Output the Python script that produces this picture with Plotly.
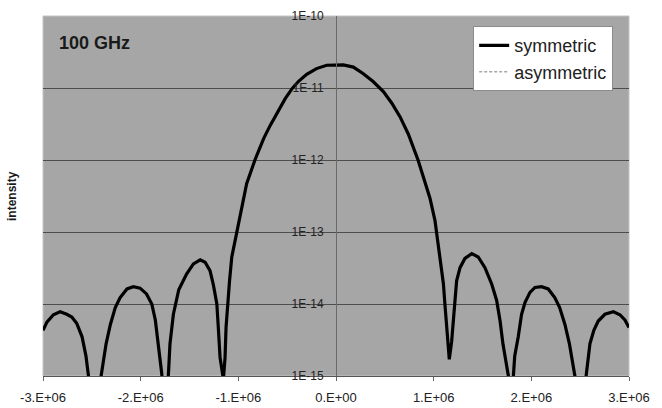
import plotly.graph_objects as go

# x positions (frequency offset)
x_vals = [
    -3.00e6, -2.96e6, -2.894e6, -2.825e6, -2.757e6, -2.705e6, -2.655e6, -2.60e6, -2.56e6, -2.535e6,
    -2.47e6, -2.405e6, -2.39e6, -2.354e6, -2.31e6, -2.26e6, -2.21e6, -2.14e6, -2.075e6, -2.006e6,
    -1.94e6, -1.886e6, -1.85e6, -1.82e6, -1.785e6, -1.75e6, -1.715e6, -1.70e6, -1.665e6, -1.61e6,
    -1.53e6, -1.46e6, -1.39e6, -1.34e6, -1.29e6, -1.256e6, -1.22e6, -1.205e6, -1.187e6, -1.153e6,
    -1.136e6, -1.126e6, -1.11e6, -1.09e6, -1.067e6, -1.016e6, -0.965e6, -0.915e6, -0.83e6,
    -0.74e6, -0.675e6, -0.59e6, -0.52e6, -0.45e6, -0.386e6, -0.30e6, -0.20e6, -0.095e6, 0.02e6,
    0.075e6, 0.178e6, 0.28e6, 0.38e6, 0.485e6, 0.57e6, 0.655e6, 0.74e6, 0.81e6, 0.84e6,
    0.90e6, 0.962e6, 1.013e6, 1.065e6, 1.10e6, 1.115e6, 1.133e6, 1.16e6, 1.184e6, 1.20e6,
    1.218e6, 1.235e6, 1.27e6, 1.32e6, 1.39e6, 1.456e6, 1.525e6, 1.594e6, 1.645e6, 1.68e6,
    1.71e6, 1.747e6, 1.765e6, 1.79e6, 1.815e6, 1.83e6, 1.866e6, 1.90e6, 1.935e6, 1.986e6,
    2.037e6, 2.105e6, 2.173e6, 2.24e6, 2.29e6, 2.344e6, 2.39e6, 2.42e6, 2.446e6, 2.50e6,
    2.56e6, 2.573e6, 2.60e6, 2.64e6, 2.685e6, 2.753e6, 2.84e6, 2.907e6, 2.958e6, 3.00e6,
]

y_symmetric = [
    4.3e-15, 5.6e-15, 7.1e-15, 7.8e-15, 7.2e-15, 6.6e-15, 5.4e-15, 3.5e-15, 1.9e-15, 1.0e-15,
    2.0e-16, 1.0e-15, 1.35e-15, 2.8e-15, 5.2e-15, 8.9e-15, 1.23e-14, 1.62e-14, 1.74e-14, 1.66e-14,
    1.38e-14, 1.0e-14, 6.0e-15, 2.8e-15, 1.1e-15, 3.0e-16, 1.1e-15, 2.8e-15, 7.2e-15, 1.58e-14,
    2.6e-14, 3.6e-14, 4.1e-14, 3.8e-14, 2.9e-14, 1.86e-14, 1.0e-14, 4.7e-15, 1.8e-15, 9.0e-16,
    1.8e-15, 4.7e-15, 1.0e-14, 2.1e-14, 4.5e-14, 1.0e-13, 2.3e-13, 4.7e-13, 1.0e-12,
    2.0e-12, 3.0e-12, 4.8e-12, 7.1e-12, 9.8e-12, 1.23e-11, 1.55e-11, 1.86e-11, 2.07e-11, 2.09e-11,
    2.09e-11, 1.95e-11, 1.58e-11, 1.23e-11, 8.9e-12, 6.2e-12, 4.0e-12, 2.3e-12, 1.32e-12, 1.0e-12,
    5.5e-13, 2.95e-13, 1.45e-13, 4.5e-14, 1.9e-14, 1.0e-14, 4.7e-15, 1.7e-15, 3.0e-15, 5.8e-15,
    1.0e-14, 2.1e-14, 3.2e-14, 4.3e-14, 5.0e-14, 4.5e-14, 3.2e-14, 1.9e-14, 1.12e-14, 5.8e-15,
    2.75e-15, 1.3e-15, 1.0e-15, 3.0e-16, 1.0e-15, 1.9e-15, 3.5e-15, 7.2e-15, 1.05e-14, 1.45e-14,
    1.7e-14, 1.74e-14, 1.62e-14, 1.23e-14, 8.9e-15, 5.2e-15, 2.8e-15, 1.5e-15, 1.0e-15, 2.0e-16,
    1.0e-15, 1.66e-15, 2.8e-15, 4.3e-15, 5.8e-15, 7.2e-15, 7.8e-15, 7.1e-15, 6.0e-15, 4.7e-15,
]

y_asymmetric = [
    4.4e-15, 5.7e-15, 7.2e-15, 7.9e-15, 7.3e-15, 6.7e-15, 5.5e-15, 3.6e-15, 1.9e-15, 1.0e-15,
    2.0e-16, 1.0e-15, 1.4e-15, 2.9e-15, 5.4e-15, 9.2e-15, 1.26e-14, 1.66e-14, 1.78e-14, 1.70e-14,
    1.41e-14, 1.02e-14, 6.2e-15, 2.9e-15, 1.1e-15, 3.0e-16, 1.1e-15, 2.9e-15, 7.5e-15, 1.65e-14,
    2.8e-14, 3.9e-14, 4.4e-14, 4.0e-14, 3.0e-14, 1.9e-14, 1.0e-14, 4.6e-15, 1.7e-15, 9.0e-16,
    1.9e-15, 4.8e-15, 1.0e-14, 2.1e-14, 4.5e-14, 1.0e-13, 2.3e-13, 4.7e-13, 1.0e-12,
    2.0e-12, 3.0e-12, 4.8e-12, 7.1e-12, 9.8e-12, 1.23e-11, 1.55e-11, 1.86e-11, 2.07e-11, 2.09e-11,
    2.09e-11, 1.95e-11, 1.58e-11, 1.23e-11, 8.9e-12, 6.2e-12, 4.0e-12, 2.3e-12, 1.32e-12, 1.0e-12,
    5.5e-13, 2.95e-13, 1.45e-13, 4.5e-14, 1.9e-14, 1.0e-14, 4.7e-15, 1.7e-15, 3.0e-15, 5.8e-15,
    1.0e-14, 2.1e-14, 3.2e-14, 4.3e-14, 5.0e-14, 4.5e-14, 3.2e-14, 1.9e-14, 1.12e-14, 5.8e-15,
    2.75e-15, 1.3e-15, 1.0e-15, 3.0e-16, 1.0e-15, 1.9e-15, 3.5e-15, 7.2e-15, 1.05e-14, 1.45e-14,
    1.7e-14, 1.74e-14, 1.62e-14, 1.23e-14, 8.9e-15, 5.2e-15, 2.8e-15, 1.5e-15, 1.0e-15, 2.0e-16,
    1.0e-15, 1.66e-15, 2.8e-15, 4.3e-15, 5.8e-15, 7.2e-15, 7.8e-15, 7.1e-15, 6.0e-15, 4.7e-15,
]

x_tick_vals = [-3e6, -2e6, -1e6, 0, 1e6, 2e6, 3e6]
x_tick_text = ["-3.E+06", "-2.E+06", "-1.E+06", "0.E+00", "1.E+06", "2.E+06", "3.E+06"]
y_tick_vals = [1e-15, 1e-14, 1e-13, 1e-12, 1e-11, 1e-10]
y_tick_text = ["1E-15", "1E-14", "1E-13", "1E-12", "1E-11", "1E-10"]

FONT = "Liberation Sans, Arial, sans-serif"

fig = go.Figure()
fig.add_trace(go.Scatter(
    x=x_vals, y=y_asymmetric, mode="lines", name="asymmetric", legendrank=2,
    line=dict(color="#a8a8a8", width=1.5, dash="3px,2px"),
))
fig.add_trace(go.Scatter(
    x=x_vals, y=y_symmetric, mode="lines", name="symmetric", legendrank=1,
    line=dict(color="#000000", width=3.2),
))

fig.update_layout(
    width=662, height=408,
    margin=dict(l=43, r=33, t=16, b=32),
    paper_bgcolor="#ffffff",
    plot_bgcolor="#a6a6a6",
    font=dict(family=FONT, color="#222222"),
    showlegend=True,
    legend=dict(
        x=0.973, y=0.972, xanchor="right", yanchor="top",
        bgcolor="#ffffff", bordercolor="#8c8c8c", borderwidth=1,
        font=dict(size=18, family=FONT, color="#222222"),
        tracegroupgap=0, itemwidth=30,
    ),
    xaxis=dict(
        range=[-3e6, 3e6], tickvals=x_tick_vals, ticktext=x_tick_text,
        showgrid=False, zeroline=False, automargin=False,
        showline=True, linecolor="#555555", linewidth=1,
        ticks="outside", ticklen=4, tickcolor="#666666",
        ticklabelstandoff=5,
        tickfont=dict(size=13, family=FONT, color="#222222"),
    ),
    yaxis=dict(
        type="log", range=[-15, -10], automargin=False,
        tickvals=y_tick_vals, ticktext=y_tick_text,
        anchor="free", position=0.5,
        showgrid=True, gridcolor="#4d4d4d", gridwidth=1,
        zeroline=False, showline=True, linecolor="#6a6a6a", linewidth=1,
        ticks="", ticklabelstandoff=10,
        tickfont=dict(size=12, family=FONT, color="#222222"),
    ),
    shapes=[dict(
        type="rect", xref="paper", yref="paper", x0=0, x1=1, y0=0, y1=1,
        line=dict(color="#c4c4c4", width=1), layer="below",
    )],
    annotations=[
        dict(text="<b>100 GHz</b>", xref="paper", yref="paper",
             x=(57 - 43) / 586, y=(376 - 43) / 360, xanchor="left", yanchor="middle",
             showarrow=False, font=dict(size=18, family=FONT, color="#1a1a1a")),
        dict(text="<b>intensity</b>", xref="paper", yref="paper",
             x=(12 - 43) / 586, y=0.5, xanchor="center", yanchor="middle",
             textangle=-90, showarrow=False,
             font=dict(size=12, family=FONT, color="#1a1a1a")),
    ],
)

fig.write_html("out.html")
